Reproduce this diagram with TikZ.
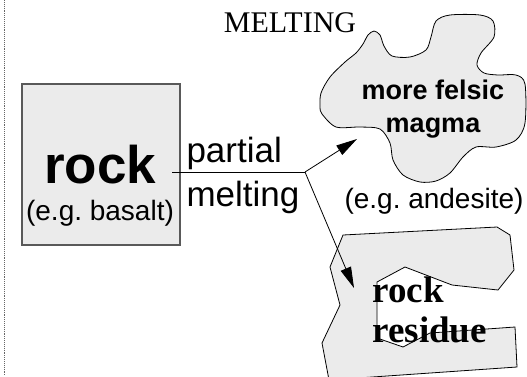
\documentclass[tikz,border=0pt]{standalone}
\usepackage{fontspec}
\setmainfont{Liberation Serif}
\setsansfont{Liberation Sans}
\usetikzlibrary{arrows.meta}

\begin{document}
\begin{tikzpicture}[x=1pt,y=-1pt,
    rocktext/.style={font=\sffamily\bfseries\fontsize{53}{60}\selectfont,anchor=base},
    egtext/.style={font=\sffamily\fontsize{28}{32}\selectfont,anchor=base},
    steptext/.style={font=\sffamily\fontsize{35}{40}\selectfont,anchor=base west},
    magmatext/.style={font=\sffamily\bfseries\fontsize{27}{32}\selectfont,anchor=base},
    residuetext/.style={font=\rmfamily\bfseries\fontsize{37}{40}\selectfont,anchor=base west},
    tip/.style={-{Triangle[length=21pt,width=11pt]}}]
              \useasboundingbox (0,0) rectangle (527,376);
              \draw[black!60,densely dotted,line width=0.9pt] (4,0)--(4,376);
              % title
              \node[font=\rmfamily\fontsize{30}{34}\selectfont,anchor=base] (T) at (290,32) {MELTING};
              % starting rock
              \node[draw=black!65,line width=1.3pt,fill=black!8,inner sep=0pt,
                    minimum width=158pt,minimum height=161pt] (R) at (101,164.5) {};
              \node[rocktext] (RT) at (100,183) {rock};
              \node[egtext] (RE) at (100,220) {(e.g.\ basalt)};
              % magma blob
              \draw[black,line width=0.8pt,fill=black!8] plot[smooth cycle,tension=0.5] coordinates {
                (320,107) (321,93) (330,77) (345,62) (356,53) (363,44) (368,35) (374,31)
                (380,35) (384,46) (392,56) (410,57) (426,50) (431,37) (436,21) (450,15)
                (480,15) (493,21) (494,37) (481,53) (477,65) (484,73) (498,75) (516,75)
                (525,84) (525,123) (516,140) (496,147) (476,147) (463,157) (450,173)
                (436,181) (420,182) (403,175) (393,160) (390,143) (380,129) (360,127)
                (336,127) (322,114)};
              \node[magmatext] (M1) at (433,99) {more felsic};
              \node[magmatext] (M2) at (433,132) {magma};
              \node[egtext] (ME) at (434,208) {(e.g.\ andesite)};
              % residue
              \draw[black,line width=0.8pt,fill=black!8] (343,235) -- (497,227) -- (510,235)
                -- (514,270) -- (498,290) -- (452,285) -- (405,267) -- (377,282)
                -- (377,338) -- (403,347) -- (430,333) -- (515,327) -- (517,367)
                -- (329,380) -- (322,343) -- (340,305) -- (330,267) -- cycle;
              \node[residuetext] (S1) at (369,302) {rock};
              \node[residuetext] (S2) at (369,342) {residue};
              % connectors
              \coordinate (RB) at (172,172);
              \coordinate (J) at (305,172);
              \coordinate (MA) at (357,139);
              \coordinate (SA) at (354,288);
              \draw[line width=0.8pt] (RB)--(J);
              \draw[line width=0.8pt,tip] (J)--(MA);
              \draw[line width=0.8pt,tip] (J)--(SA);
              \node[steptext] (P1) at (183,162) {partial};
              \node[steptext] (P2) at (183,206) {melting};
            \end{tikzpicture}
\end{document}
